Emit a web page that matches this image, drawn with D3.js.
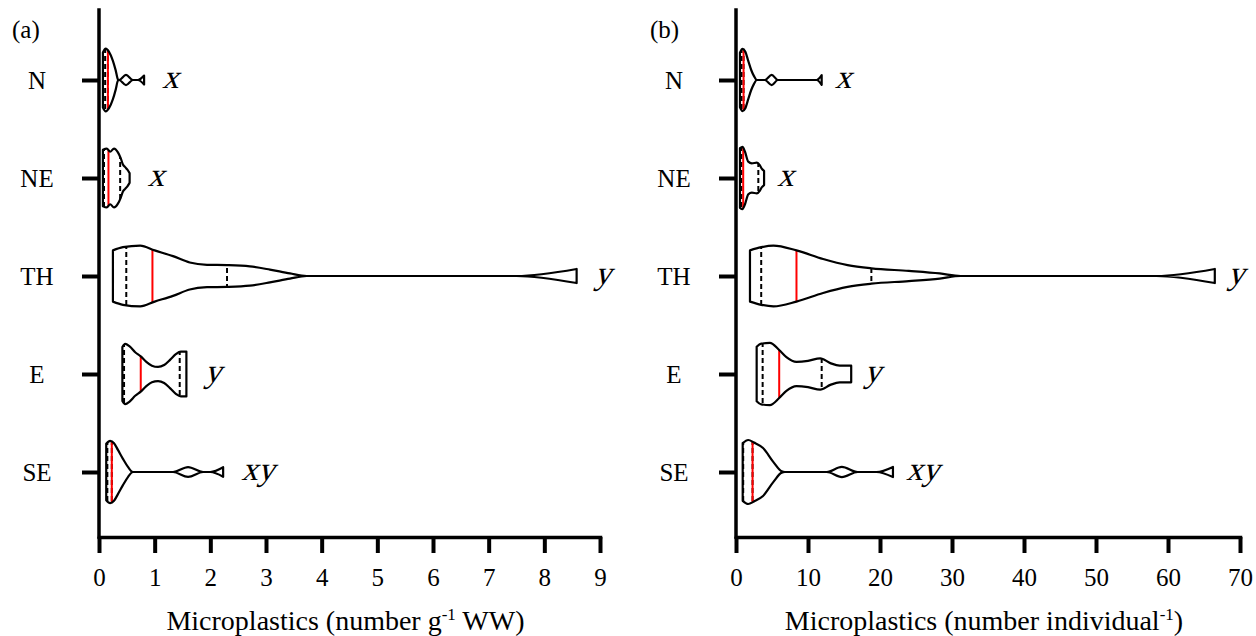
<!DOCTYPE html>
<html><head><meta charset="utf-8">
<script src="https://cdn.jsdelivr.net/npm/d3@7"></script>
<style>body{margin:0;background:#fff}</style>
</head><body>
<svg id="chart" width="1256" height="636"></svg>
<script>
const categories = ["N", "NE", "TH", "E", "SE"];
const groupLetters = ["x", "x", "y", "y", "xy"];
const ticksA = [0, 1, 2, 3, 4, 5, 6, 7, 8, 9];
const ticksB = [0, 10, 20, 30, 40, 50, 60, 70];
const titleA = ["Microplastics (number g", "-1", " WW)"];
const titleB = ["Microplastics (number individual", "-1", ")"];

// Panel (a) violin outlines: [value, relative half-width]
const violinA_N  = [[0.07,0.86],[0.12,0.98],[0.18,0.88],[0.25,0.60],[0.30,0.30],[0.34,0.02],[0.36,0],[0.485,0.16],[0.61,0],[0.70,0],[0.81,0.14]];
const violinA_NE = [[0.07,0.88],[0.14,0.92],[0.20,0.82],[0.27,0.92],[0.34,0.80],[0.39,0.62],[0.43,0.42],[0.47,0.34],[0.51,0.26],[0.55,0.15]];
const violinA_TH = [[0.25,0.80],[0.43,0.90],[0.74,0.95],[1.00,0.80],[1.33,0.62],[1.63,0.42],[1.94,0.35],[2.30,0.34],[2.71,0.30],[3.07,0.20],[3.43,0.08],[3.73,0],[7.50,0],[8.58,0.22]];
const violinA_E  = [[0.42,0.84],[0.47,0.94],[0.55,0.86],[0.65,0.68],[0.75,0.55],[0.85,0.38],[0.95,0.26],[1.06,0.22],[1.17,0.28],[1.28,0.45],[1.38,0.62],[1.47,0.70],[1.57,0.70]];
const violinA_SE = [[0.13,0.88],[0.20,0.97],[0.27,0.90],[0.34,0.69],[0.43,0.41],[0.52,0.16],[0.61,0],[1.33,0],[1.60,0.15],[1.87,0],[2.00,0],[2.23,0.15]];
const q1A     = [0.11, 0.09, 0.49, 0.45, 0.15];
const medianA = [0.16, 0.17, 0.96, 0.75, 0.23];
const q3A     = [0.16, 0.38, 2.30, 1.45, 0.23];

// Panel (b)
const violinB_N  = [[0.55,0.85],[0.90,0.97],[1.30,0.88],[1.70,0.60],[2.10,0.32],[2.50,0.12],[2.90,0],[4.00,0],[4.96,0.16],[5.80,0],[11.2,0],[11.9,0.15]];
const violinB_NE = [[0.55,0.93],[0.90,0.97],[1.25,0.82],[1.70,0.51],[2.20,0.46],[2.90,0.48],[3.30,0.40],[3.55,0.30],[3.90,0.22]];
const violinB_TH = [[1.94,0.80],[3.50,0.90],[5.20,0.95],[8.40,0.80],[12.1,0.53],[15.5,0.34],[18.8,0.24],[24.0,0.16],[28.3,0.08],[31.2,0],[58.4,0],[66.5,0.22]];
const violinB_E  = [[2.87,0.85],[3.50,0.95],[4.70,0.97],[6.00,0.75],[7.00,0.53],[8.40,0.38],[10.0,0.41],[11.7,0.49],[13.1,0.34],[14.4,0.26],[16.0,0.26]];
const violinB_SE = [[0.93,0.90],[1.70,1.00],[2.50,0.92],[3.75,0.75],[5.20,0.31],[6.35,0.02],[6.80,0],[12.6,0],[14.7,0.16],[16.9,0],[19.5,0],[21.8,0.16]];
const q1B     = [0.75, 0.75, 3.5, 3.7, 1.0];
const medianB = [1.05, 1.0, 8.4, 6.0, 2.3];
const q3B     = [1.05, 3.1, 18.8, 11.9, 2.3];

const FONT = "'Liberation Serif', 'Times New Roman', serif";
const svg = d3.select("#chart");

function drawPanel(cfg) {
  const g = svg.append("g");
  const x = d3.scaleLinear().domain(cfg.domain).range(cfg.xRange);
  const y = d3.scalePoint().domain(categories).range([80, 472]);
  const w = d3.scaleLinear().domain([0, 1]).range([0, 32]);
  const x0 = cfg.xRange[0];

  categories.forEach((c, i) => {
    const prof = cfg.violins[i];
    const cy = y(c);
    const area = d3.area().curve(d3.curveMonotoneX)
      .x(d => x(d[0])).y0(d => cy - w(d[1])).y1(d => cy + w(d[1]));
    const id = cfg.id + "-clip-" + i;
    g.append("clipPath").attr("id", id).append("path").attr("d", area(prof));
    g.append("path").attr("d", area(prof)).attr("fill", "#fff");
    const lines = g.append("g").attr("clip-path", `url(#${id})`);
    [cfg.q1[i], cfg.q3[i]].forEach(v => {
      lines.append("line").attr("x1", x(v)).attr("x2", x(v))
        .attr("y1", cy - 40).attr("y2", cy + 40)
        .attr("stroke", "#000").attr("stroke-width", 2).attr("stroke-dasharray", "5,3");
    });
    lines.append("line").attr("x1", x(cfg.median[i])).attr("x2", x(cfg.median[i]))
      .attr("y1", cy - 40).attr("y2", cy + 40)
      .attr("stroke", "#ff0000").attr("stroke-width", 2);
    g.append("path").attr("d", area(prof)).attr("fill", "none")
      .attr("stroke", "#000").attr("stroke-width", 2.2).attr("stroke-linejoin", "round");
    const vmax = d3.max(prof, d => d[0]);
    g.append("text").attr("transform", `translate(${x(vmax) + cfg.letterGap},${cy + 8}) skewX(-16)`)
      .attr("font-family", FONT).attr("font-size", 33)
      .attr("fill", "#000").text(groupLetters[i]);
  });

  // x axis
  const xa = g.append("g").attr("transform", "translate(0,537)")
    .call(d3.axisBottom(x).tickValues(cfg.ticks).tickSize(16).tickSizeOuter(0).tickFormat(d3.format("d")));
  xa.select(".domain").attr("stroke-width", 3.5).attr("stroke-linecap", "square");
  xa.selectAll(".tick line").attr("stroke-width", 4);
  xa.selectAll(".tick text").attr("font-family", FONT).attr("font-size", 25)
    .attr("fill", "#000").attr("y", 31);

  // y axis
  const ya = g.append("g").attr("transform", `translate(${x0},0)`)
    .call(d3.axisLeft(y).tickSize(17).tickSizeOuter(0));
  ya.select(".domain").remove();
  ya.selectAll(".tick line").attr("stroke-width", 4);
  ya.selectAll(".tick text").attr("font-family", FONT).attr("font-size", 25)
    .attr("fill", "#000").attr("x", -62).attr("text-anchor", "middle");
  g.append("line").attr("x1", x0).attr("x2", x0).attr("y1", 10).attr("y2", 537)
    .attr("stroke", "#000").attr("stroke-width", 3.5).attr("stroke-linecap", "square");

  // axis title
  const t = g.append("text").attr("x", (cfg.xRange[0] + cfg.xRange[1]) / 2 - 4).attr("y", 630)
    .attr("text-anchor", "middle").attr("font-family", FONT).attr("font-size", 28).attr("fill", "#000");
  t.append("tspan").text(cfg.title[0]);
  t.append("tspan").attr("font-size", 17).attr("dy", -10).text(cfg.title[1]);
  t.append("tspan").attr("dy", 10).text(cfg.title[2]);

  // panel letter
  g.append("text").attr("x", cfg.labelX).attr("y", 38).attr("font-family", FONT)
    .attr("font-size", 25).attr("fill", "#000").text(cfg.label);
}

drawPanel({ id: "a", domain: [0, 9], xRange: [99, 600], ticks: ticksA, title: titleA, label: "(a)", labelX: 12, letterGap: 18,
  violins: [violinA_N, violinA_NE, violinA_TH, violinA_E, violinA_SE], q1: q1A, median: medianA, q3: q3A });
drawPanel({ id: "b", domain: [0, 70], xRange: [736, 1240], ticks: ticksB, title: titleB, label: "(b)", labelX: 650, letterGap: 13,
  violins: [violinB_N, violinB_NE, violinB_TH, violinB_E, violinB_SE], q1: q1B, median: medianB, q3: q3B });
</script>
</body></html>
